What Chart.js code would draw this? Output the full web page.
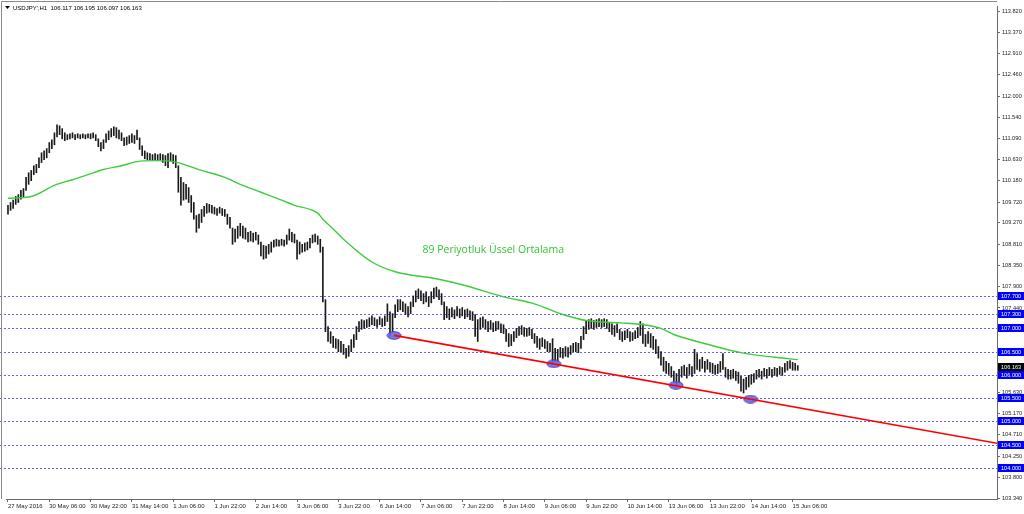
<!DOCTYPE html>
<html><head><meta charset="utf-8">
<script src="https://cdn.jsdelivr.net/npm/chart.js@4/dist/chart.umd.min.js"></script>
<style>html,body{margin:0;padding:0;background:#fff;}#c{display:block;}</style>
</head><body>
<canvas id="c" width="1024" height="514"></canvas>
<script>
const symbolTitle = "USDJPY',H1  106.117 106.195 106.097 106.163";
const emaLabel = "89 Periyotluk Üssel Ortalama";

const xTickIdx = [0,16,32,48,64,80,96,112,128,144,160,176,192,208,224,240,256,272,288,304];
const xTickLabels = ["27 May 2016","30 May 06:00","30 May 22:00","31 May 14:00","1 Jun 06:00","1 Jun 22:00","2 Jun 14:00","3 Jun 06:00","3 Jun 22:00","6 Jun 14:00","7 Jun 06:00","7 Jun 22:00","8 Jun 14:00","9 Jun 06:00","9 Jun 22:00","10 Jun 14:00","13 Jun 06:00","13 Jun 22:00","14 Jun 14:00","15 Jun 06:00"];
const yTickVals = [113.82,113.37,112.91,112.46,112.00,111.54,111.09,110.63,110.18,109.72,109.27,108.81,108.35,107.90,107.44,105.63,105.17,104.71,104.25,103.80,103.34];

const highs = [
109.65,109.71,109.76,109.84,109.88,109.97,110.01,110.25,110.35,110.40,
110.50,110.53,110.67,110.78,110.82,110.87,111.00,111.06,111.21,111.38,
111.36,111.30,111.21,111.17,111.19,111.21,111.17,111.19,111.17,111.19,
111.17,111.19,111.19,111.21,111.17,111.08,111.00,111.06,111.19,111.25,
111.30,111.34,111.32,111.27,111.21,111.10,111.12,111.15,111.19,111.15,
111.27,111.10,110.93,110.82,110.78,110.76,110.74,110.76,110.74,110.76,
110.74,110.72,110.76,110.78,110.74,110.72,110.50,110.25,110.14,110.10,
110.03,109.86,109.71,109.43,109.46,109.56,109.63,109.69,109.67,109.65,
109.61,109.58,109.61,109.58,109.56,109.46,109.39,109.16,109.14,109.20,
109.26,109.20,109.16,109.07,109.09,109.05,109.07,109.01,108.86,108.79,
108.77,108.81,108.86,108.90,108.92,108.90,108.92,108.90,109.01,109.14,
109.07,109.03,108.90,108.86,108.81,108.84,108.86,108.94,109.01,109.03,
108.99,108.92,108.75,107.62,107.04,106.93,106.83,106.78,106.76,106.72,
106.66,106.57,106.63,106.76,106.87,107.04,107.15,107.19,107.17,107.19,
107.23,107.27,107.23,107.19,107.25,107.21,107.27,107.53,107.36,107.32,
107.51,107.62,107.62,107.57,107.53,107.47,107.57,107.70,107.81,107.85,
107.81,107.75,107.79,107.68,107.79,107.87,107.89,107.83,107.75,107.57,
107.47,107.42,107.45,107.40,107.47,107.42,107.45,107.40,107.42,107.38,
107.36,107.30,107.19,107.23,107.25,107.19,107.15,107.17,107.12,107.15,
107.15,107.10,107.08,106.98,106.89,106.87,106.93,107.00,107.04,107.06,
107.02,107.00,107.02,106.98,106.89,106.83,106.78,106.80,106.76,106.72,
106.68,106.78,106.57,106.55,106.59,106.57,106.61,106.59,106.63,106.68,
106.70,106.68,106.83,107.04,107.17,107.19,107.21,107.17,107.19,107.21,
107.19,107.21,107.19,107.12,107.10,107.06,107.10,106.98,106.93,106.95,
106.98,106.93,106.91,106.95,107.02,107.15,107.10,106.87,106.93,106.89,
106.83,106.76,106.61,106.50,106.38,106.29,106.25,106.18,106.08,106.03,
106.12,106.18,106.21,106.16,106.23,106.18,106.55,106.46,106.33,106.38,
106.29,106.33,106.27,106.25,106.21,106.23,106.29,106.46,106.16,106.12,
106.10,106.12,106.08,106.06,105.97,105.91,105.95,105.99,106.01,106.03,
106.10,106.12,106.08,106.14,106.12,106.16,106.12,106.16,106.14,106.18,
106.16,106.25,106.29,106.31,106.27,106.25,106.20];

const lows = [
109.46,109.54,109.58,109.67,109.71,109.78,109.82,109.97,110.10,110.18,
110.31,110.35,110.46,110.57,110.63,110.67,110.78,110.87,110.95,111.12,
111.17,111.08,111.04,111.06,111.08,111.10,111.06,111.10,111.08,111.10,
111.08,111.10,111.08,111.10,111.04,110.91,110.82,110.87,111.00,111.06,
111.12,111.15,111.10,111.08,111.04,110.93,110.95,110.98,111.00,110.98,
111.06,110.85,110.72,110.65,110.63,110.63,110.61,110.63,110.61,110.63,
110.57,110.50,110.46,110.61,110.55,110.46,109.93,109.65,109.76,109.78,
109.71,109.50,109.35,109.07,109.16,109.28,109.41,109.48,109.50,109.48,
109.46,109.43,109.48,109.43,109.41,109.24,109.16,108.81,108.86,108.94,
108.99,108.94,108.92,108.86,108.88,108.86,108.90,108.81,108.56,108.49,
108.51,108.60,108.64,108.75,108.77,108.77,108.79,108.77,108.81,108.90,
108.86,108.84,108.49,108.60,108.64,108.66,108.69,108.73,108.84,108.86,
108.81,108.64,107.57,106.93,106.72,106.68,106.59,106.57,106.50,106.50,
106.44,106.36,106.40,106.50,106.59,106.76,106.93,106.98,107.00,107.02,
107.04,107.08,107.06,107.02,107.08,107.04,107.06,107.15,106.83,106.93,
107.23,107.36,107.40,107.36,107.30,107.25,107.32,107.47,107.57,107.64,
107.60,107.53,107.57,107.47,107.55,107.64,107.68,107.62,107.51,107.19,
107.23,107.19,107.25,107.21,107.27,107.23,107.27,107.21,107.25,107.19,
107.17,106.83,106.72,106.98,107.02,106.98,106.93,106.98,106.93,106.95,
106.98,106.91,106.89,106.72,106.61,106.63,106.72,106.80,106.85,106.87,
106.83,106.83,106.85,106.78,106.68,106.59,106.55,106.61,106.57,106.50,
106.50,106.23,106.29,106.29,106.38,106.36,106.40,106.38,106.44,106.50,
106.50,106.48,106.57,106.76,106.89,106.98,107.00,106.98,107.02,107.04,
107.02,107.04,107.00,106.93,106.87,106.83,106.91,106.76,106.72,106.76,
106.80,106.72,106.74,106.78,106.80,106.85,106.68,106.61,106.68,106.59,
106.55,106.46,106.36,106.21,106.08,106.03,106.01,105.95,105.86,105.78,
105.84,105.95,105.99,105.93,106.01,105.97,106.03,106.12,106.08,106.14,
106.06,106.12,106.06,106.03,106.01,106.03,106.06,106.12,105.95,105.91,
105.91,105.93,105.88,105.82,105.65,105.61,105.69,105.74,105.80,105.84,
105.91,105.95,105.91,105.97,105.93,105.99,105.95,105.99,105.97,106.01,
105.99,106.06,106.10,106.14,106.10,106.10,106.10];

const emaIdx = [0,9,18,25,31,37,44,50,57,64,75,84,90,98,106,111,120,122,126,130,141,150,166,176,192,204,215,224,237,246,253,258,271,284,297,306];
const emaVal = [109.80,109.84,110.08,110.20,110.31,110.42,110.50,110.59,110.61,110.59,110.40,110.25,110.10,109.93,109.76,109.65,109.48,109.35,109.14,108.92,108.43,108.22,108.07,107.94,107.68,107.53,107.30,107.17,107.12,107.08,107.00,106.87,106.66,106.48,106.38,106.33];

const trendIdx = [149.6, 383.2];
const trendVal = [106.85, 104.53];
const pivotIdx = [149.6, 211.5, 258.8, 287.7];
const pivotVal = [106.85, 106.24, 105.78, 105.48];
const levels = [107.7,107.3,107.0,106.5,106.0,105.5,105.0,104.5,104.0];
const lastPrice = 106.163;

// ---- build ----
const barData = highs.map((h,i)=>({x:i, y:[lows[i], h]}));
const emaData = emaIdx.map((x,k)=>({x, y:emaVal[k]}));
const trendData = trendIdx.map((x,k)=>({x, y:trendVal[k]}));
const pivotData = pivotIdx.map((x,k)=>({x, y:pivotVal[k]}));

const ell = document.createElement('canvas');
ell.width = 16; ell.height = 9;
{ const c = ell.getContext('2d');
  c.beginPath(); c.ellipse(8,4.5,7,3.8,0,0,Math.PI*2);
  c.fillStyle='rgba(105,105,225,0.9)'; c.fill();
  c.lineWidth=1; c.strokeStyle='rgba(60,60,190,0.9)'; c.stroke(); }

Chart.defaults.font.family = "'Liberation Sans', Arial, sans-serif";
Chart.defaults.color = '#222';

const overlay = {
  id:'overlay',
  beforeDatasetsDraw(chart){
    const {ctx, chartArea:a, scales:{y}} = chart;
    ctx.save();
    ctx.strokeStyle = 'rgba(70,70,240,0.85)';
    ctx.lineWidth = 1;
    ctx.setLineDash([2,2]);
    levels.forEach(v=>{
      const py = Math.round(y.getPixelForValue(v)) + 0.5;
      ctx.beginPath(); ctx.moveTo(0, py); ctx.lineTo(a.right, py); ctx.stroke();
    });
    ctx.setLineDash([]);
    ctx.strokeStyle = '#8a8a8a';
    ctx.beginPath(); ctx.moveTo(1.5, 1.5); ctx.lineTo(1.5, a.bottom); ctx.stroke();
    ctx.beginPath(); ctx.moveTo(1.5, 1.5); ctx.lineTo(a.right, 1.5); ctx.stroke();
    ctx.restore();
  },
  afterDraw(chart){
    const {ctx, chartArea:a, scales:{x,y}} = chart;
    ctx.save();
    ctx.font = "5.6px 'Liberation Sans', Arial, sans-serif";
    ctx.textBaseline = 'middle';
    ctx.textAlign = 'left';
    levels.forEach(v=>{
      const py = Math.round(y.getPixelForValue(v));
      ctx.fillStyle = '#0000ff';
      ctx.fillRect(a.right+1, py-4, 1024-a.right-1, 8);
      ctx.fillStyle = '#ffffff';
      ctx.fillText(v.toFixed(3), a.right+4, py+0.5);
    });
    const lp = Math.round(y.getPixelForValue(lastPrice));
    ctx.fillStyle = '#000000';
    ctx.fillRect(a.right+1, lp-4, 1024-a.right-1, 8);
    ctx.fillStyle = '#ffffff';
    ctx.fillText(lastPrice.toFixed(3), a.right+4, lp+0.5);

    ctx.fillStyle = '#000';
    ctx.beginPath(); ctx.moveTo(5,6); ctx.lineTo(10,6); ctx.lineTo(7.5,9); ctx.closePath(); ctx.fill();
    ctx.font = "6px 'Liberation Sans', Arial, sans-serif";
    ctx.fillText(symbolTitle, 13, 8);

    ctx.fillStyle = '#33c433';
    ctx.font = "10.5px 'Open Sans', 'Liberation Sans', sans-serif";
    ctx.textAlign = 'center';
    ctx.fillText(emaLabel, x.getPixelForValue(188), y.getPixelForValue(108.68));
    ctx.restore();
  }
};

new Chart(document.getElementById('c'), {
  type:'bar',
  data:{
    datasets:[
      {type:'line', data:trendData, borderColor:'#ff0000', borderWidth:1.6, pointRadius:0, order:1},
      {type:'line', data:pivotData, showLine:false, pointStyle:ell, pointRadius:5, order:2},
      {type:'line', data:emaData, borderColor:'#3ccc3c', borderWidth:1.4, pointRadius:0, cubicInterpolationMode:'monotone', order:3},
      {type:'bar', data:barData, backgroundColor:'#1a1a1a', borderWidth:0, barThickness:1, order:4}
    ]
  },
  options:{
    responsive:false, animation:false, devicePixelRatio:1,
    layout:{padding:{left:1, top:3, right:0, bottom:0}},
    plugins:{legend:{display:false}, tooltip:{enabled:false}},
    scales:{
      x:{type:'linear', min:-0.77, max:383.19, position:'bottom', offset:false,
        border:{display:true, color:'#6a6a6a', width:1},
        grid:{offset:false, drawOnChartArea:false, drawTicks:true, tickLength:3, color:'#6a6a6a'},
        afterBuildTicks:(s)=>{ s.ticks = xTickIdx.map(v=>({value:v})); },
        afterFit:(s)=>{ s.height = 15; },
        ticks:{autoSkip:false, maxRotation:0, align:'start', padding:1, font:{size:6}, color:'#222',
          callback:(v)=>{ const k = xTickIdx.indexOf(v); return k>=0 ? xTickLabels[k] : ''; }}
      },
      y:{type:'linear', min:103.33, max:113.938, position:'right',
        border:{display:true, color:'#6a6a6a', width:1},
        grid:{drawOnChartArea:false, drawTicks:true, tickLength:3, color:'#6a6a6a'},
        afterBuildTicks:(s)=>{ s.ticks = yTickVals.map(v=>({value:v})); },
        afterFit:(s)=>{ s.width = 27; },
        ticks:{autoSkip:false, padding:2, font:{size:5.6}, color:'#222',
          callback:(v)=>Number(v).toFixed(3)}
      }
    }
  },
  plugins:[overlay]
});
</script>
</body></html>
